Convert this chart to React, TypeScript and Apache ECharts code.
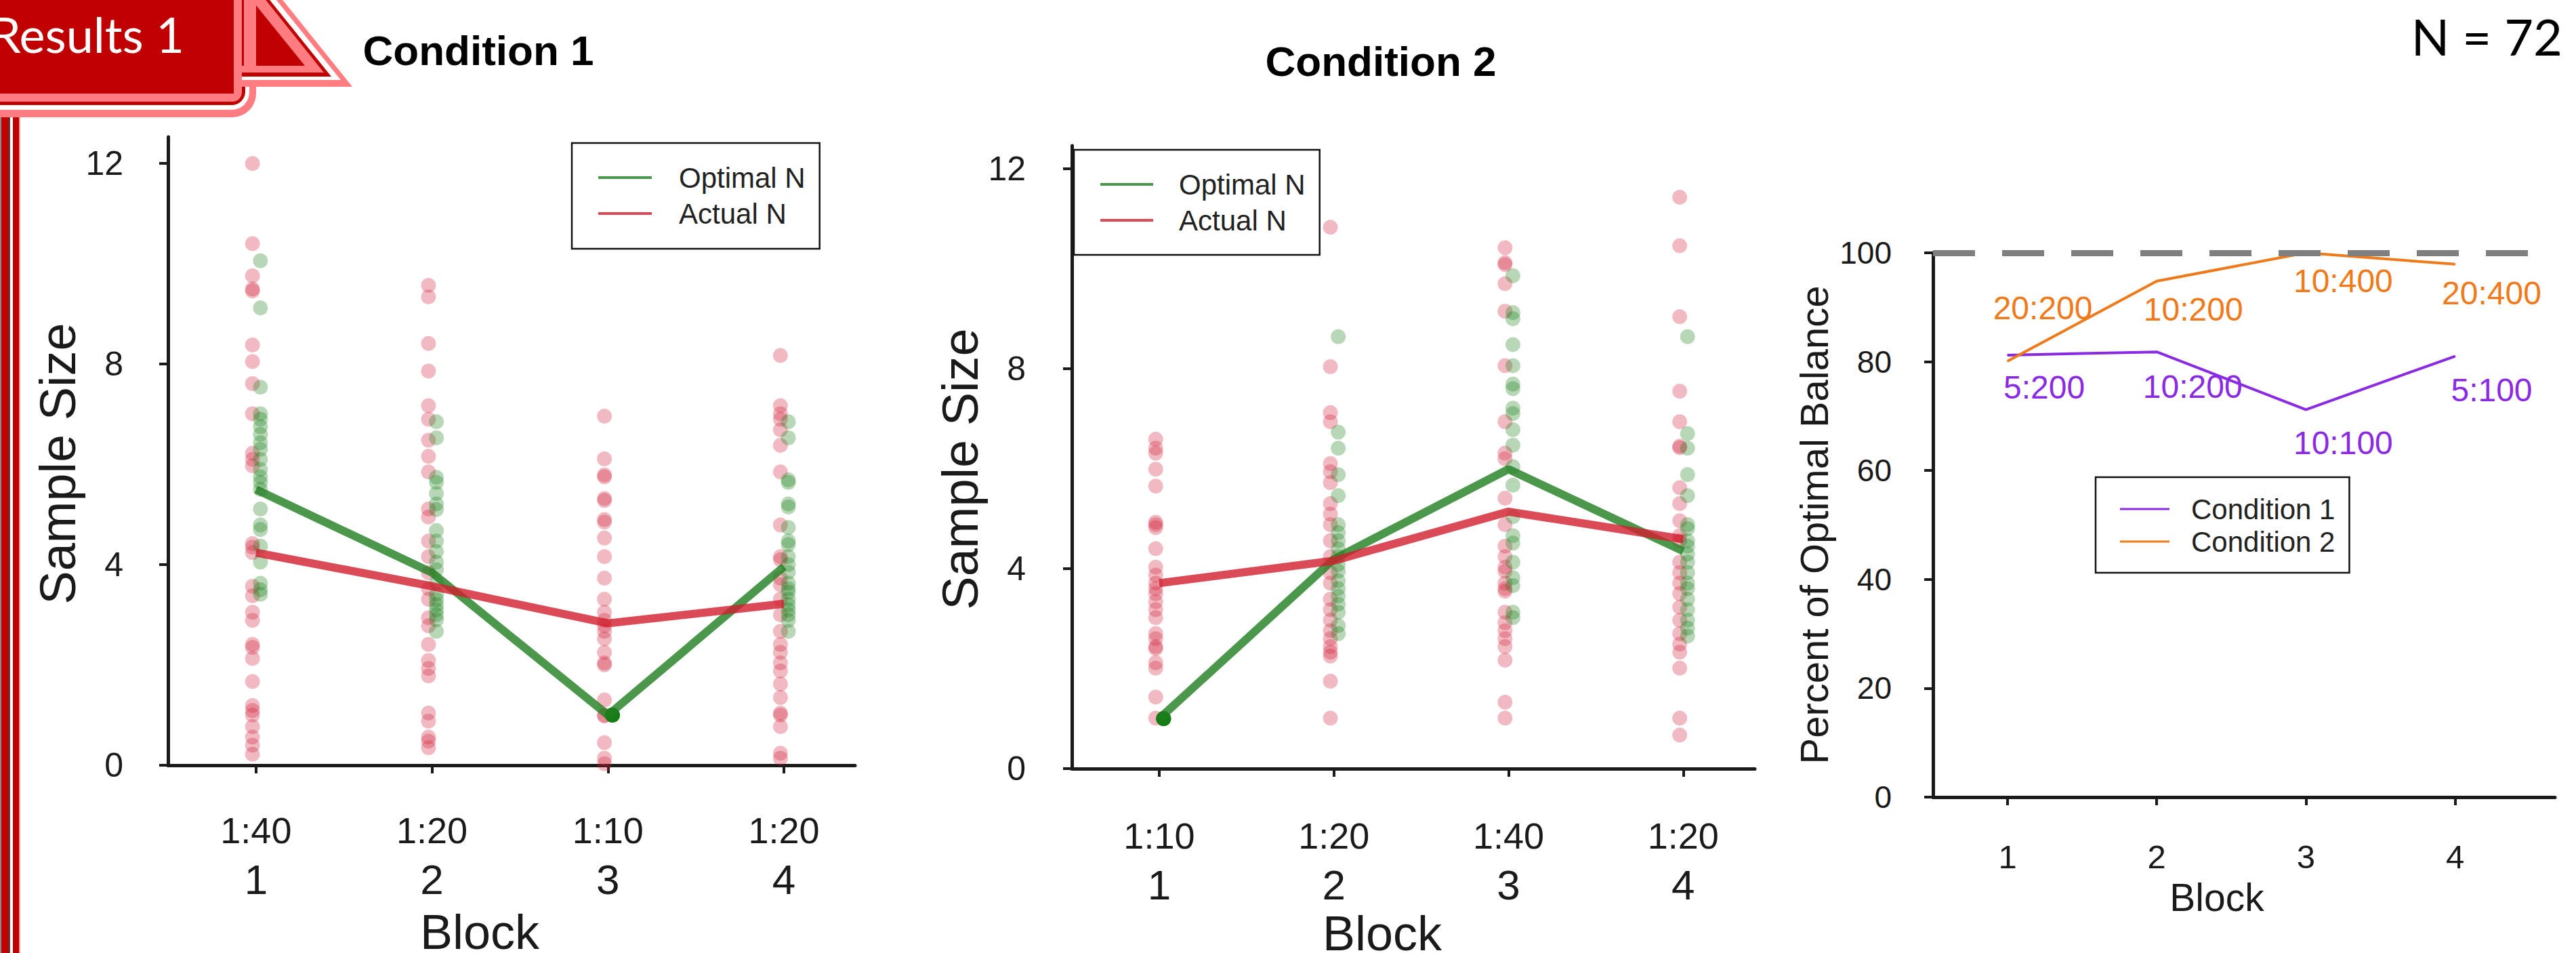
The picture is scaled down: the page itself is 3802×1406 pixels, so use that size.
import React, { useEffect, useRef } from 'react';
import * as echarts from 'echarts';

// ---------------- data ----------------
const blocks = [1, 2, 3, 4];
const ratiosCond1 = ['1:40', '1:20', '1:10', '1:20'];
const ratiosCond2 = ['1:10', '1:20', '1:40', '1:20'];
const sampleTicks = [0, 4, 8, 12];
const percentTicks = [0, 20, 40, 60, 80, 100];

const optimalMeanC1 = [5.5, 3.84, 1.0, 3.96];
const actualMeanC1 = [4.24, 3.57, 2.83, 3.22];
const optimalMeanC2 = [1.0, 4.19, 5.99, 4.35];
const actualMeanC2 = [3.71, 4.16, 5.14, 4.59];

// individual participants, one list per block
const actualPtsC1 = [
  [12.0, 10.4, 9.76, 9.46, 9.5, 8.38, 8.05, 7.61, 7.01, 6.22, 5.97, 6.1, 4.42, 4.35, 4.24, 3.57, 3.38, 3.05, 2.89, 2.41, 2.35, 2.13, 1.67, 1.19, 1.09, 1.0, 0.77, 0.56, 0.4, 0.22],
  [9.57, 9.34, 8.41, 7.86, 7.17, 6.9, 6.48, 6.16, 5.85, 5.11, 4.95, 4.47, 4.16, 3.84, 3.52, 3.31, 2.94, 2.78, 2.41, 2.09, 1.93, 1.78, 1.04, 0.88, 0.56, 0.48, 0.35],
  [6.96, 6.11, 5.79, 5.75, 5.32, 5.28, 4.9, 4.85, 4.53, 4.16, 3.73, 3.31, 3.05, 2.89, 2.78, 2.67, 2.52, 2.25, 2.04, 2.0, 1.3, 1.0, 0.98, 0.45, 0.14, 0.03],
  [8.17, 7.17, 7.01, 6.9, 6.69, 6.38, 5.85, 4.79, 4.16, 4.1, 3.73, 3.6, 3.31, 3.0, 2.67, 2.41, 2.25, 2.04, 1.88, 1.62, 1.35, 1.04, 1.0, 0.77, 0.24, 0.14],
];
const optimalPtsC1 = [
  [10.06, 9.12, 7.54, 7.01, 6.9, 6.75, 6.6, 6.43, 6.3, 6.1, 5.9, 5.75, 5.64, 5.5, 5.11, 4.79, 4.7, 4.37, 4.05, 3.63, 3.5, 3.41],
  [6.85, 6.53, 5.74, 5.64, 5.42, 5.21, 5.1, 4.68, 4.47, 4.26, 4.05, 3.9, 3.63, 3.41, 3.3, 3.2, 3.1, 3.0, 2.9, 2.67],
  [1.0, 1.0, 1.0, 1.0, 1.0, 1.0, 1.0, 1.0, 1.0, 1.0, 1.0, 1.0],
  [6.85, 6.53, 5.69, 5.64, 5.21, 5.15, 4.74, 4.47, 4.4, 4.16, 4.0, 3.85, 3.63, 3.52, 3.45, 3.31, 3.2, 3.1, 3.0, 2.89, 2.67],
];
const actualPtsC2 = [
  [6.59, 6.41, 6.31, 5.99, 5.65, 4.93, 4.88, 4.82, 4.4, 4.03, 3.87, 3.71, 3.6, 3.5, 3.34, 3.18, 3.02, 2.7, 2.6, 2.44, 2.4, 2.12, 2.01, 1.43, 1.01],
  [10.83, 8.04, 7.12, 6.94, 6.1, 5.94, 5.72, 5.3, 5.09, 4.88, 4.56, 4.24, 3.92, 3.71, 3.39, 3.18, 2.97, 2.76, 2.6, 2.44, 2.33, 2.25, 1.75, 1.01],
  [10.42, 10.12, 10.08, 9.7, 9.15, 8.06, 6.94, 6.31, 6.2, 5.41, 4.88, 4.45, 4.24, 4.03, 3.95, 3.71, 3.6, 3.55, 3.13, 2.92, 2.76, 2.6, 2.44, 2.17, 1.33, 1.01],
  [11.43, 10.46, 9.04, 7.55, 6.94, 6.45, 6.42, 5.62, 5.3, 4.96, 4.66, 4.56, 4.13, 3.92, 3.71, 3.5, 3.23, 2.97, 2.7, 2.49, 2.33, 2.01, 1.01, 0.67],
];
const optimalPtsC2 = [
  [1.0, 1.0, 1.0, 1.0, 1.0, 1.0, 1.0, 1.0, 1.0, 1.0, 1.0, 1.0],
  [8.64, 6.73, 6.41, 5.88, 5.46, 4.88, 4.72, 4.56, 4.4, 4.24, 4.08, 3.95, 3.76, 3.6, 3.45, 3.29, 3.13, 2.86, 2.7],
  [9.86, 9.12, 9.0, 8.48, 8.06, 7.69, 7.6, 7.21, 7.1, 6.78, 6.47, 6.04, 5.67, 5.04, 4.66, 4.51, 4.13, 3.82, 3.66, 3.13, 3.02],
  [8.64, 6.7, 6.41, 5.88, 5.46, 4.88, 4.8, 4.56, 4.45, 4.29, 4.13, 3.92, 3.71, 3.6, 3.39, 3.18, 2.97, 2.81, 2.65],
];

const balanceCond1 = [81.2, 81.8, 71.2, 81.0];
const balanceCond2 = [80.1, 94.8, 100, 97.9];
const balanceLabelsCond1 = ['5:200', '10:200', '10:100', '5:100'];
const balanceLabelsCond2 = ['20:200', '10:200', '10:400', '20:400'];
const optimalLevel = 100;

// ---------------- styles ----------------
const FONT = '"Liberation Sans", Arial, Helvetica, sans-serif';
const INK = '#1a1a1a';
const RED = '#C00000';
const PINK = '#FF7C80';
const GREEN_DOT = 'rgba(20,125,20,0.38)';
const RED_DOT = 'rgba(210,30,55,0.38)';
const GREEN_LINE = 'rgba(30,125,30,0.8)';
const RED_LINE = 'rgba(210,30,45,0.8)';
const PURPLE = '#8A2BE2';
const ORANGE = '#EE7A1C';
const RED_SHIFT = -0.02;
const GREEN_SHIFT = 0.025;
const labelOffsets1 = [[54, 48], [53, 51], [55, 49], [54, 50]];
const labelOffsets2 = [[52, -78], [54, 42], [55, 41], [54, 43]];

function points(lists: number[][], shift: number) {
  const out: number[][] = [];
  lists.forEach((vals, i) => vals.forEach((v) => out.push([blocks[i] + shift, v])));
  return out;
}
function meanLine(vals: number[]) {
  return vals.map((v, i) => [blocks[i], v]);
}

function blockXAxis(grid: number, max: number, ratios: string[] | null, margin: number, nameGap: number, shiftPad: number, nameSize: number, tickSize: number) {
  return {
    type: 'value', gridIndex: grid, min: 0.5, max,
    axisLine: { show: true, onZero: false, lineStyle: { color: INK, width: 5 } },
    axisTick: { show: true, customValues: blocks, length: 12, lineStyle: { color: INK, width: 4 } },
    axisLabel: {
      customValues: blocks, margin,
      formatter: (v: number) => {
        const i = blocks.indexOf(v);
        return ratios ? `{r|${ratios[i]}}\n{b|${v}}` : `{b|${v}}`;
      },
      rich: {
        r: { fontSize: 54, lineHeight: 72, fontFamily: FONT, color: INK },
        b: { fontSize: tickSize, lineHeight: ratios ? 72 : tickSize, fontFamily: FONT, color: INK },
      },
    },
    splitLine: { show: false },
    name: 'Block', nameLocation: 'middle', nameGap,
    nameTextStyle: { fontSize: nameSize, color: INK, fontFamily: FONT, padding: [0, shiftPad, 0, 0] },
  };
}

function valueYAxis(grid: number, max: number, ticks: number[], margin: number, fontSize: number, name: string, nameGap: number, nameSize: number, shiftPad: number) {
  return {
    type: 'value', gridIndex: grid, min: 0, max,
    axisLine: { show: true, onZero: false, lineStyle: { color: INK, width: 5 } },
    axisTick: { show: true, customValues: ticks, length: 13, lineStyle: { color: INK, width: 4 } },
    axisLabel: { customValues: ticks, margin, fontSize, color: INK, fontFamily: FONT },
    splitLine: { show: false },
    name, nameLocation: 'middle', nameGap,
    nameTextStyle: { fontSize: nameSize, color: INK, fontFamily: FONT, padding: [0, shiftPad, 0, 0] },
  };
}

function legendBox(names: string[], left: number, top: number, padding: number[], itemGap: number, itemWidth: number, itemHeight: number, textPad: number) {
  return {
    data: names, orient: 'vertical', left, top, padding, itemGap, itemWidth, itemHeight,
    icon: 'rect', selectedMode: false,
    borderColor: '#111', borderWidth: 2.5, backgroundColor: '#fff',
    textStyle: { fontSize: 42, lineHeight: 42, color: '#222', fontFamily: FONT, padding: [0, 0, 0, textPad] },
  };
}

function buildOption() {
  const graphics: any[] = [
    // slide border on the left
    { type: 'rect', shape: { x: 0, y: 150, width: 2, height: 1260 }, style: { fill: '#8c8c8c' } },
    { type: 'rect', shape: { x: 2, y: 150, width: 11, height: 1260 }, style: { fill: RED } },
    { type: 'rect', shape: { x: 13, y: 150, width: 2, height: 1260 }, style: { fill: '#4a4a4a' } },
    { type: 'rect', shape: { x: 19, y: 150, width: 9, height: 1260 }, style: { fill: RED } },
    { type: 'rect', shape: { x: 28, y: 150, width: 1.5, height: 1260 }, style: { fill: PINK } },
    // banner
    { type: 'rect', shape: { x: -10, y: -10, width: 388, height: 183, r: [0, 0, 35, 0] }, style: { fill: PINK } },
    { type: 'rect', shape: { x: -10, y: -10, width: 378, height: 172, r: [0, 0, 26, 0] }, style: { fill: '#fff' } },
    { type: 'rect', shape: { x: -10, y: -10, width: 372, height: 165, r: [0, 0, 20, 0] }, style: { fill: RED } },
    { type: 'rect', shape: { x: -10, y: -10, width: 367, height: 160, r: [0, 0, 14, 0] }, style: { fill: PINK } },
    { type: 'rect', shape: { x: -10, y: -10, width: 355, height: 148 }, style: { fill: RED } },
    { type: 'polygon', shape: { points: [[357, -75], [520, 128], [357, 128]] }, style: { fill: PINK } },
    { type: 'polygon', shape: { points: [[357, -63], [503, 118], [357, 118]] }, style: { fill: '#fff' } },
    { type: 'polygon', shape: { points: [[357, -51], [489, 113], [357, 113]] }, style: { fill: RED } },
    { type: 'polygon', shape: { points: [[357, -44], [478, 107], [357, 107]] }, style: { fill: PINK } },
    { type: 'rect', shape: { x: 357, y: 0, width: 3, height: 97 }, style: { fill: RED } },
    { type: 'polygon', shape: { points: [[378, 8], [450, 97], [378, 97]] }, style: { fill: RED } },
    { type: 'text', x: 272, y: 50, style: { text: 'Results 1', fill: '#fff', fontSize: 72, fontFamily: 'Lato, "Open Sans", sans-serif', align: 'right', verticalAlign: 'middle' } },
    // titles
    { type: 'text', x: 706, y: 74, style: { text: 'Condition 1', fill: '#000', fontSize: 62, fontWeight: 'bold', fontFamily: FONT, align: 'center', verticalAlign: 'middle' } },
    { type: 'text', x: 2038, y: 90, style: { text: 'Condition 2', fill: '#000', fontSize: 62, fontWeight: 'bold', fontFamily: FONT, align: 'center', verticalAlign: 'middle' } },
    { type: 'text', x: 3782, y: 53, style: { text: 'N = 72', fill: '#000', fontSize: 74, fontFamily: 'Lato, "Open Sans", sans-serif', align: 'right', verticalAlign: 'middle' } },
  ];

  const series: any[] = [
    { name: 'Actual N (participants)', type: 'scatter', xAxisIndex: 0, yAxisIndex: 0, data: points(actualPtsC1, RED_SHIFT), symbolSize: 22, itemStyle: { color: RED_DOT }, z: 2 },
    { name: 'Optimal N (participants)', type: 'scatter', xAxisIndex: 0, yAxisIndex: 0, data: points(optimalPtsC1, GREEN_SHIFT), symbolSize: 22, itemStyle: { color: GREEN_DOT }, z: 2 },
    { name: 'Optimal N', type: 'line', xAxisIndex: 0, yAxisIndex: 0, data: meanLine(optimalMeanC1), symbol: 'none', color: GREEN_LINE, itemStyle: { color: GREEN_LINE }, lineStyle: { color: GREEN_LINE, width: 12 }, z: 3 },
    { name: 'Actual N', type: 'line', xAxisIndex: 0, yAxisIndex: 0, data: meanLine(actualMeanC1), symbol: 'none', color: RED_LINE, itemStyle: { color: RED_LINE }, lineStyle: { color: RED_LINE, width: 12 }, z: 3 },

    { name: 'Actual N (participants) 2', type: 'scatter', xAxisIndex: 1, yAxisIndex: 1, data: points(actualPtsC2, RED_SHIFT), symbolSize: 22, itemStyle: { color: RED_DOT }, z: 2 },
    { name: 'Optimal N (participants) 2', type: 'scatter', xAxisIndex: 1, yAxisIndex: 1, data: points(optimalPtsC2, GREEN_SHIFT), symbolSize: 22, itemStyle: { color: GREEN_DOT }, z: 2 },
    { name: 'Optimal N', type: 'line', xAxisIndex: 1, yAxisIndex: 1, data: meanLine(optimalMeanC2), symbol: 'none', color: GREEN_LINE, itemStyle: { color: GREEN_LINE }, lineStyle: { color: GREEN_LINE, width: 12 }, z: 3 },
    { name: 'Actual N', type: 'line', xAxisIndex: 1, yAxisIndex: 1, data: meanLine(actualMeanC2), symbol: 'none', color: RED_LINE, itemStyle: { color: RED_LINE }, lineStyle: { color: RED_LINE, width: 12 }, z: 3 },

    {
      name: 'Condition 1', type: 'line', xAxisIndex: 2, yAxisIndex: 2,
      data: balanceCond1.map((v, i) => ({ value: [blocks[i], v], label: { offset: labelOffsets1[i] } })),
      symbol: 'circle', symbolSize: 2, showSymbol: true, color: PURPLE,
      itemStyle: { color: PURPLE }, lineStyle: { color: PURPLE, width: 4 },
      label: { show: true, position: 'inside', formatter: (p: any) => balanceLabelsCond1[p.dataIndex], fontSize: 48, color: PURPLE, fontFamily: FONT },
      z: 3,
    },
    {
      name: 'Condition 2', type: 'line', xAxisIndex: 2, yAxisIndex: 2,
      data: balanceCond2.map((v, i) => ({ value: [blocks[i], v], label: { offset: labelOffsets2[i] } })),
      symbol: 'circle', symbolSize: 2, showSymbol: true, color: ORANGE,
      itemStyle: { color: ORANGE }, lineStyle: { color: ORANGE, width: 4 },
      label: { show: true, position: 'inside', formatter: (p: any) => balanceLabelsCond2[p.dataIndex], fontSize: 48, color: ORANGE, fontFamily: FONT },
      markLine: {
        silent: true, symbol: ['none', 'none'], label: { show: false },
        lineStyle: { color: '#7f7f7f', width: 9, type: [62, 40] },
        data: [{ yAxis: optimalLevel }],
      },
      z: 3,
    },
  ];

  return {
    animation: false,
    backgroundColor: '#ffffff',
    textStyle: { fontFamily: FONT },
    grid: [
      { left: 248, top: 202, width: 1014, height: 927, outerBoundsMode: 'none' },
      { left: 1582, top: 215, width: 1008, height: 919, outerBoundsMode: 'none' },
      { left: 2853, top: 373, width: 918, height: 803, outerBoundsMode: 'none' },
    ],
    xAxis: [
      blockXAxis(0, 4.404, ratiosCond1, 60, 210, 94, 72, 62),
      blockXAxis(1, 4.41, ratiosCond2, 63, 205, 92, 72, 62),
      blockXAxis(2, 4.67, null, 63, 119, 80, 57, 49),
    ],
    yAxis: [
      valueYAxis(0, 12.53, sampleTicks, 66, 50, 'Sample Size', 125, 74, 37),
      valueYAxis(1, 12.46, sampleTicks, 68, 50, 'Sample Size', 120, 74, 35),
      valueYAxis(2, 100, percentTicks, 61, 46, 'Percent of Optimal Balance', 147, 58, 0),
    ],
    legend: [
      legendBox(['Optimal N', 'Actual N'], 844, 211, [30, 21, 31, 39], 11, 79, 4, 35),
      legendBox(['Optimal N', 'Actual N'], 1585, 221, [30, 21, 30, 39], 11, 78, 4, 33),
      legendBox(['Condition 1', 'Condition 2'], 3093, 704, [26, 21, 25, 36], 6, 73, 3, 27),
    ],
    series,
    graphic: graphics,
  };
}

export default function App() {
  const ref = useRef<HTMLDivElement>(null);
  useEffect(() => {
    document.body.style.margin = '0';
    if (!ref.current) return;
    const chart = echarts.init(ref.current, undefined, { renderer: 'svg' });
    chart.setOption(buildOption() as any);
    return () => chart.dispose();
  }, []);
  return <div ref={ref} style={{ position: 'fixed', left: 0, top: 0, width: 3802, height: 1406, background: '#fff' }} />;
}
